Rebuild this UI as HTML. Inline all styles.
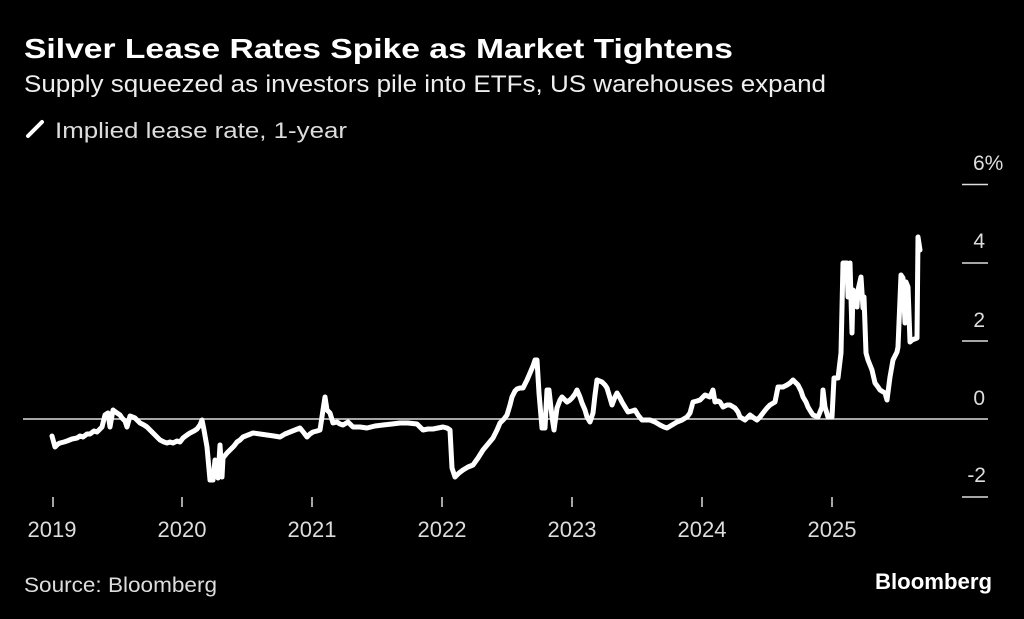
<!DOCTYPE html>
<html><head><meta charset="utf-8"><style>
html,body{margin:0;padding:0;background:#000;}
svg{display:block;}
text{font-family:"Liberation Sans",sans-serif;}
</style></head><body>
<svg width="1024" height="619" viewBox="0 0 1024 619" xmlns="http://www.w3.org/2000/svg">
<rect width="1024" height="619" fill="#000"/>
<text x="24" y="58" font-size="28" font-weight="bold" fill="#fff" textLength="709" lengthAdjust="spacingAndGlyphs">Silver Lease Rates Spike as Market Tightens</text>
<text x="24" y="92" font-size="24" fill="#eee" textLength="802" lengthAdjust="spacingAndGlyphs">Supply squeezed as investors pile into ETFs, US warehouses expand</text>
<line x1="28" y1="136" x2="42" y2="122" stroke="#fff" stroke-width="4" stroke-linecap="round"/>
<text x="55" y="138" font-size="22" fill="#ddd" textLength="292" lengthAdjust="spacingAndGlyphs">Implied lease rate, 1-year</text>

<g stroke="#ddd" stroke-width="1.5">
<line x1="962" y1="184.5" x2="988" y2="184.5"/>
<line x1="962" y1="263" x2="988" y2="263"/>
<line x1="962" y1="341" x2="988" y2="341"/>
<line x1="962" y1="497" x2="988" y2="497"/>
<line x1="23" y1="419" x2="988" y2="419"/>
<line x1="53" y1="497" x2="53" y2="507"/>
<line x1="182" y1="497" x2="182" y2="507"/>
<line x1="312" y1="497" x2="312" y2="507"/>
<line x1="442" y1="497" x2="442" y2="507"/>
<line x1="572" y1="497" x2="572" y2="507"/>
<line x1="702" y1="497" x2="702" y2="507"/>
<line x1="832" y1="497" x2="832" y2="507"/>
</g>
<g font-size="21" fill="#ddd">
<text x="973" y="170">6%</text>
<text x="985" y="248" text-anchor="end">4</text>
<text x="985" y="327" text-anchor="end">2</text>
<text x="985" y="405" text-anchor="end">0</text>
<text x="986" y="482" text-anchor="end">-2</text>
</g>
<g font-size="22" fill="#ddd" text-anchor="middle">
<text x="52" y="537">2019</text>
<text x="182" y="537">2020</text>
<text x="312" y="537">2021</text>
<text x="442" y="537">2022</text>
<text x="572" y="537">2023</text>
<text x="702" y="537">2024</text>
<text x="832" y="537">2025</text>
</g>
<text x="24" y="592" font-size="21" fill="#ddd" textLength="193" lengthAdjust="spacingAndGlyphs">Source: Bloomberg</text>
<text x="875" y="589" font-size="22" font-weight="bold" fill="#fff" textLength="117" lengthAdjust="spacingAndGlyphs">Bloomberg</text>

<polyline fill="none" stroke="#fff" stroke-width="5" stroke-linejoin="round" stroke-linecap="round" points="
52,436 55,447 58,444 60,443 64,442 67,441 72,439 77,438 80,436 83,437 87,434 90,434 94,431 97,432 100,429 102,427 105,415 108,413 110,427 113,410 117,413 120,415 122,418 125,421 127,427 130,416 135,418 140,423 144,425 147,427 150,430 153,433 157,437 160,440 164,442 167,443 170,442 173,443 177,441 180,442 183,438 187,435 190,433 194,431 197,429 200,425 202,420 204,430 207,447 210,480 213,480 215,460 218,478 220,445 222,477 223,458 227,453 230,450 234,446 237,442 240,440 243,437 248,435 253,433 260,434 267,435 274,436 280,437 285,434 290,432 295,430 300,428 304,433 307,437 310,434 313,432 317,431 320,430 323,410 325,397 327,410 330,413 333,423 337,422 340,424 343,425 348,422 353,427 360,427 367,428 375,426 383,425 392,424 400,423 408,423 417,424 420,427 423,430 428,429 433,429 438,428 443,427 447,428 450,430 452,468 455,477 459,473 463,470 468,467 473,465 478,458 483,450 488,444 493,438 497,430 500,423 504,419 507,415 510,405 512,397 515,391 517,389 520,388 523,388 527,380 530,373 533,366 535,360 537,360 539,393 542,428 545,428 547,390 549,390 552,417 554,430 557,408 560,400 562,397 565,400 567,402 570,400 572,398 575,394 577,390 580,397 582,403 585,410 587,417 590,422 593,413 595,395 597,380 602,382 605,385 607,388 610,398 612,405 615,397 617,393 620,398 622,402 625,407 628,412 632,411 635,410 638,415 642,420 646,420 650,420 655,422 660,425 664,427 667,428 672,425 677,422 682,420 687,417 690,413 693,402 697,401 700,400 703,397 705,395 710,397 713,390 715,402 718,401 720,402 723,407 727,405 730,405 735,408 738,412 740,417 745,420 750,415 754,418 757,420 760,417 763,413 767,408 770,405 775,402 778,387 783,387 787,385 790,383 793,380 798,385 801,391 803,397 806,402 808,407 811,412 813,415 818,417 822,407 823,390 825,407 828,417 832,417 834,378 838,378 841,353 843,263 847,263 848,297 850,263 852,333 853,290 857,307 858,290 861,277 863,308 864,297 866,353 868,360 872,370 875,383 878,387 880,390 885,393 887,400 890,377 893,360 897,352 898,347 901,275 903,278 905,323 906,282 908,287 910,342 912,340 917,338 918,237 920,250"/>
</svg>
</body></html>
